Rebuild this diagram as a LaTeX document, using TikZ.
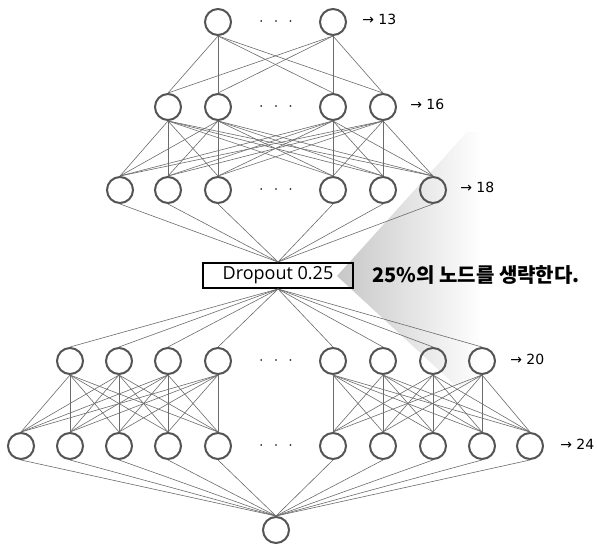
\documentclass[tikz,border=0pt]{standalone}
\usepackage{fontspec}
\newfontfamily\dejavu{DejaVu Sans}
\newfontfamily\opensans{Open Sans}
\newfontfamily\kr{Noto Sans CJK KR}
\begin{document}
\begin{tikzpicture}[x=0.75pt,y=-0.75pt,
  neuron/.style={circle, draw=black!67, line width=1.5pt, minimum size=19.5pt, inner sep=0pt},
  conn/.style={draw=black!58, line width=0.45pt},
  lbl/.style={font=\dejavu\fontsize{10.5}{12}\selectfont, anchor=west, inner sep=0pt},
  dotsnode/.style={font=\fontsize{12}{12}\selectfont, inner sep=0pt},
  dropbox/.style={draw=black, line width=1.5pt, minimum width=112.5pt, minimum height=18.75pt, inner sep=0pt, font=\opensans\fontsize{13.5}{15}\selectfont},
  note/.style={font=\kr\bfseries\fontsize{15}{17}\selectfont, anchor=west, inner sep=0pt}]
\useasboundingbox (0,0) rectangle (597,548);
% gradient wedge
\shade[left color=black!22, right color=white] (337,276) -- (467,132) -- (482,132) -- (482,390) -- (455,385) -- cycle;
% layer 1
\node[neuron] (a1) at (218,22) {};
\node[neuron] (a2) at (333,22) {};
\node[dotsnode] (ad) at (276,22) {$\cdot\hskip5pt\cdot\hskip5pt\cdot$};
\node[lbl] (al) at (362,19) {→ 13};
% layer 2
\foreach \i/\x in {1/168,2/218,3/333,4/383} \node[neuron] (b\i) at (\x,107) {};
\node[dotsnode] (bd) at (276,107) {$\cdot\hskip5pt\cdot\hskip5pt\cdot$};
\node[lbl] (bl) at (410,104) {→ 16};
% layer 3
\foreach \i/\x in {1/120,2/168,3/218,4/333,5/383,6/433} \node[neuron] (c\i) at (\x,190) {};
\node[dotsnode] (cd) at (276,190) {$\cdot\hskip5pt\cdot\hskip5pt\cdot$};
\node[lbl] (cl) at (460,187) {→ 18};
% dropout
\node[dropbox] (drop) at (278,275.5) {Dropout 0.25};
\node[note] (nt) at (372,275) {25\%의 노드를 생략한다.};
% layer 4
\foreach \i/\x in {1/70,2/119,3/168,4/218,5/333,6/383,7/433,8/482} \node[neuron] (d\i) at (\x,361) {};
\node[dotsnode] (dd) at (276,361) {$\cdot\hskip5pt\cdot\hskip5pt\cdot$};
\node[lbl] (dl) at (510,359) {→ 20};
% layer 5
\foreach \i/\x in {1/21,2/70,3/119,4/168,5/218,6/333,7/383,8/433,9/482,10/530} \node[neuron] (e\i) at (\x,446) {};
\node[dotsnode] (ed) at (276,446) {$\cdot\hskip5pt\cdot\hskip5pt\cdot$};
\node[lbl] (el) at (560,444) {→ 24};
% output
\node[neuron] (f) at (276,530) {};
% connections
\foreach \i in {1,2} \foreach \j in {1,...,4} \draw[conn] (a\i.south) -- (b\j.north);
\foreach \i in {1,...,4} \foreach \j in {1,...,6} \draw[conn] (b\i.south) -- (c\j.north);
\foreach \i in {1,...,6} \draw[conn] (c\i.south) -- (drop.north);
\foreach \j in {1,...,8} \draw[conn] (drop.south) -- (d\j.north);
\foreach \i in {1,...,4} \foreach \j in {1,...,5} \draw[conn] (d\i.south) -- (e\j.north);
\foreach \i in {5,...,8} \foreach \j in {6,...,10} \draw[conn] (d\i.south) -- (e\j.north);
\foreach \i in {1,...,10} \draw[conn] (e\i.south) -- (f.north);
\end{tikzpicture}
\end{document}
